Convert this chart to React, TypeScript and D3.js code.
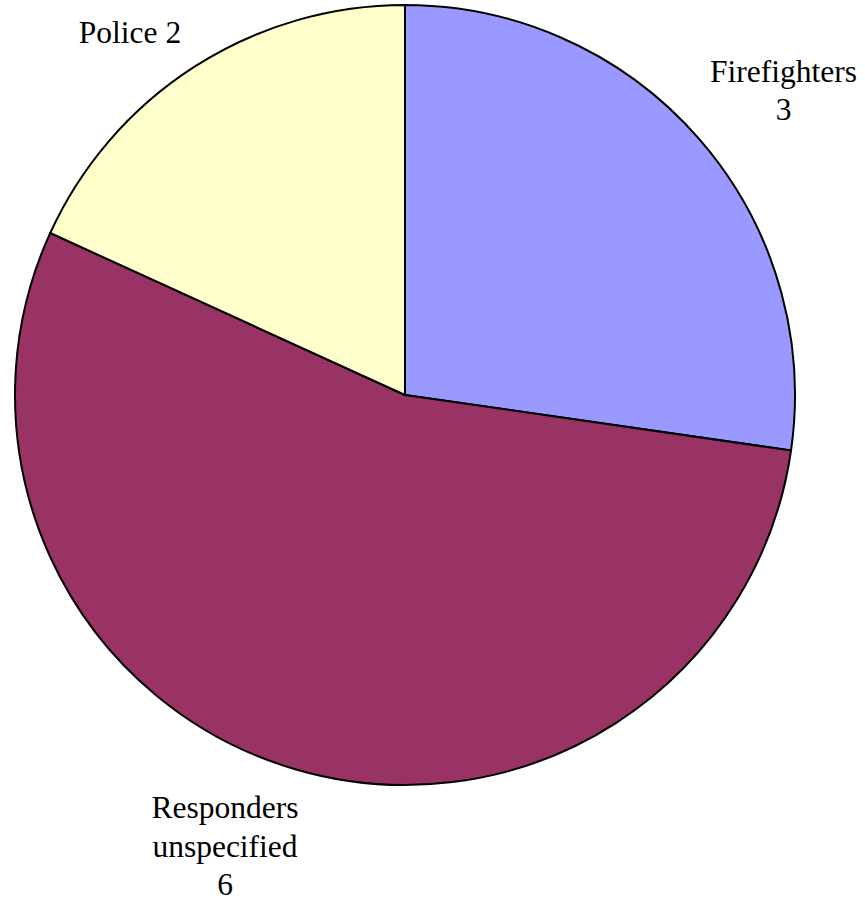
import React from "react";
import * as d3 from "d3";

const categories = ["Firefighters", "Responders unspecified", "Police"];
const values = [3, 6, 2];
const colors = ["#9999FF", "#993366", "#FFFFCC"];
const labelLines = [["Firefighters", "3"], ["Responders", "unspecified", "6"], ["Police 2"]];

const W = 865;
const H = 905;
const cx = 405;
const cy = 395;
const r = 390;

// label anchor positions (centre x of each line, baseline of each line)
const labelPos = [
  { lines: [{ x: 783.5, y: 82 }, { x: 783.5, y: 120 }] },
  { lines: [{ x: 225, y: 818 }, { x: 225, y: 857 }, { x: 225, y: 895 }] },
  { lines: [{ x: 130, y: 43 }] },
];

export default function App() {
  const data = categories.map((c, i) => ({ c, v: values[i], color: colors[i] }));
  const pie = d3.pie<any>().value((d) => d.v).sort(null).startAngle(0).endAngle(2 * Math.PI);
  const arcs = pie(data);
  const arc = d3.arc<any>().innerRadius(0).outerRadius(r);
  return (
    <svg width={W} height={H} style={{ position: "absolute", left: 0, top: 0, background: "#fff" }}>
      <g transform={`translate(${cx},${cy})`}>
        {arcs.map((a, i) => (
          <path key={i} d={arc(a) as string} fill={a.data.color} stroke="#000" strokeWidth={2} strokeLinejoin="round" />
        ))}
      </g>
      {labelLines.map((lines, i) =>
        lines.map((t, j) => (
          <text
            key={`${i}-${j}`}
            x={labelPos[i].lines[j].x}
            y={labelPos[i].lines[j].y}
            textAnchor="middle"
            fontFamily="'Liberation Serif', 'Times New Roman', serif"
            fontSize={31.5}
            fill="#000"
          >
            {t}
          </text>
        ))
      )}
    </svg>
  );
}
